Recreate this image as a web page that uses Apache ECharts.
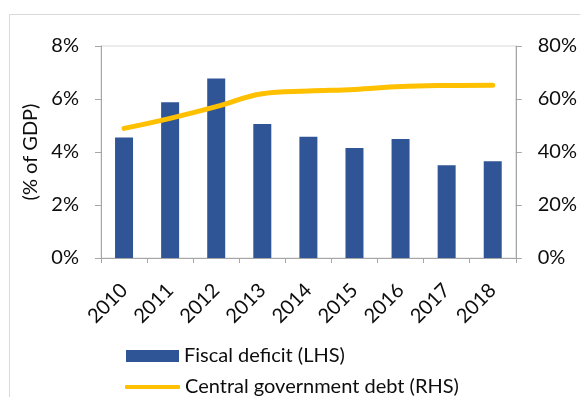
<!DOCTYPE html>
<html>
<head>
<meta charset="utf-8">
<script src="https://cdn.jsdelivr.net/npm/echarts@6/dist/echarts.min.js"></script>
<style>
  html, body { margin: 0; padding: 0; background: #fff; }
  #chart { width: 580px; height: 397px; }
</style>
</head>
<body>
<div id="chart"></div>
<script>
// years on the x axis
const years = ['2010', '2011', '2012', '2013', '2014', '2015', '2016', '2017', '2018']
// fiscal deficit, % of GDP (left axis)
const fiscalDeficit = [4.55, 5.88, 6.77, 5.06, 4.58, 4.15, 4.49, 3.5, 3.65]
// central government debt, % of GDP (right axis)
const govDebt = [48.9, 52.7, 57.1, 62.0, 63.0, 63.6, 64.7, 65.1, 65.2]

const barName = 'Fiscal deficit (LHS)'
const lineName = 'Central government debt (RHS)'

const font = 'Lato, "Open Sans", sans-serif'
const axisGray = '#a6a6a6'

const chart = echarts.init(document.getElementById('chart'))

const option = {
  animation: false,
  textStyle: { fontFamily: font },
  graphic: [
    {
      // outer chart frame (runs off the right/bottom edge)
      type: 'rect',
      shape: { x: 9.5, y: 14.5, width: 640, height: 420 },
      style: { fill: 'none', stroke: '#d9d9d9', lineWidth: 1 },
      silent: true,
    },
  ],
  grid: {
    left: 101,
    right: 64,
    top: 46,
    bottom: 139,
    show: true,
    borderColor: '#d9d9d9',
    borderWidth: 1,
  },
  legend: [
    {
      data: [barName],
      orient: 'vertical',
      left: 121,
      top: 341,
      itemWidth: 53,
      itemHeight: 12,
      icon: 'rect',
      selectedMode: false,
      textStyle: { fontSize: 20, color: '#0d0d0d', fontFamily: font },
    },
    {
      data: [lineName],
      orient: 'vertical',
      left: 120,
      top: 372,
      itemWidth: 55,
      itemHeight: 4,
      icon: 'roundRect',
      selectedMode: false,
      textStyle: { fontSize: 20, color: '#0d0d0d', fontFamily: font },
    },
  ],
  xAxis: {
    type: 'category',
    data: years,
    axisLine: { show: true, lineStyle: { color: axisGray, width: 1 } },
    axisTick: { show: true, length: 5, lineStyle: { color: axisGray } },
    axisLabel: {
      rotate: 45,
      fontSize: 20,
      color: '#0d0d0d',
      margin: 29,
      fontFamily: font,
    },
  },
  yAxis: [
    {
      type: 'value',
      min: 0,
      max: 8,
      interval: 2,
      name: '(% of GDP)',
      nameLocation: 'middle',
      nameGap: 58,
      nameTextStyle: { fontSize: 20, color: '#0d0d0d', fontFamily: font },
      axisLine: { show: true, lineStyle: { color: axisGray } },
      axisTick: { show: true, length: 6, lineStyle: { color: axisGray } },
      splitLine: { show: false },
      axisLabel: {
        fontSize: 20,
        color: '#0d0d0d',
        margin: 22,
        fontFamily: font,
        formatter: (v) => v + '%',
      },
    },
    {
      type: 'value',
      min: 0,
      max: 80,
      interval: 20,
      position: 'right',
      axisLine: { show: true, lineStyle: { color: axisGray } },
      axisTick: { show: true, length: 6, lineStyle: { color: axisGray } },
      splitLine: { show: false },
      axisLabel: {
        fontSize: 20,
        color: '#0d0d0d',
        margin: 22,
        fontFamily: font,
        formatter: (v) => v + '%',
      },
    },
  ],
  series: [
    {
      name: barName,
      type: 'bar',
      yAxisIndex: 0,
      barWidth: 18,
      itemStyle: { color: '#2f5597' },
      data: fiscalDeficit,
    },
    {
      name: lineName,
      type: 'line',
      yAxisIndex: 1,
      smooth: 0.4,
      showSymbol: false,
      symbol: 'none',
      lineStyle: { color: '#ffc000', width: 5, cap: 'round' },
      itemStyle: { color: '#ffc000' },
      data: govDebt,
    },
  ],
}

chart.setOption(option)
</script>
</body>
</html>
